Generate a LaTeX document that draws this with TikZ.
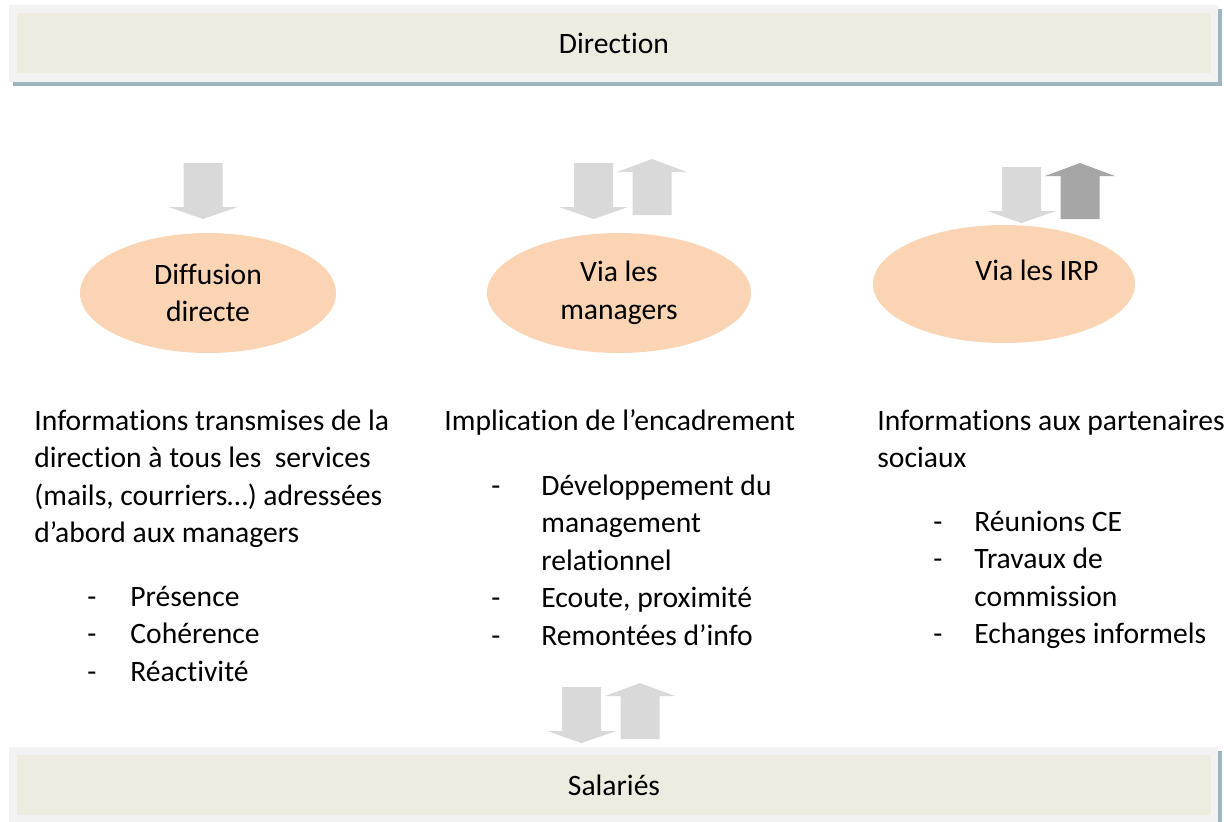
\documentclass[tikz,border=0pt]{standalone}
\usepackage{fontspec}
\setmainfont{Carlito}[Ligatures=NoCommon, RawFeature={-liga;-calt}]
\usetikzlibrary{shapes.geometric,backgrounds}

\definecolor{beige}{HTML}{EEECE1}
\definecolor{cadre}{HTML}{F2F2F2}
\definecolor{ombre}{HTML}{9DB5BE}
\definecolor{peche}{HTML}{FBD4B4}
\definecolor{grisclair}{HTML}{D9D9D9}
\definecolor{grisfonce}{HTML}{A6A6A6}

% tiret de liste, place a gauche du texte
\newcommand{\puce}[1]{\leavevmode\llap{-\hspace{#1pt}}}

\tikzset{
  texte/.style={font=\fontsize{14.8pt}{18.75pt}\selectfont, inner sep=0pt},
  bandeau/.style={texte, fill=beige, minimum width=597pt, minimum height=30pt},
  bulle/.style={texte, ellipse, fill=peche, align=center},
  % ancre sur la ligne de base de la derniere ligne
  bloc/.style={texte, anchor=base west, align=left},
  fleche bas/.pic={\fill (-19.5,0) -- (19.5,0) -- (19.5,44) -- (34.5,44) -- (0,56) -- (-34.5,44) -- (-19.5,44) -- cycle;},
  fleche haut/.pic={\fill (-19.5,0) -- (19.5,0) -- (19.5,-43) -- (35,-43) -- (0,-56) -- (-35,-43) -- (-19.5,-43) -- cycle;}
}

\begin{document}
\begin{tikzpicture}[x=0.5pt, y=-0.5pt]
  \useasboundingbox (0,0) rectangle (1224,821);

  % bandeaux haut et bas
  \node[bandeau] (direction) at (614,43) {Direction};
  \node[bandeau] (salaries) at (614,785) {Salariés};
  \begin{scope}[on background layer]
    \fill[white] (0,0) rectangle (1224,821);
    \foreach \b in {direction, salaries} {
      \fill[ombre] ([shift={(-4,-4)}]\b.north west) rectangle ([shift={(11,13)}]\b.south east);
      \fill[cadre] ([shift={(-8,-8)}]\b.north west) rectangle ([shift={(7,9)}]\b.south east);
    }
  \end{scope}

  % les trois canaux
  \node[bulle, minimum width=128pt, minimum height=60pt] (diffusion) at (208,293) {Diffusion\\directe};
  \node[bulle, minimum width=132pt, minimum height=60pt] (managers) at (619,293) {Via les\\managers};
  \node[bulle, minimum width=131pt, minimum height=59pt] (irp) at (1004,284) {};
  \node[texte] (irptexte) at (1037,270) {Via les IRP};

  % fleches
  \pic[fill=grisclair] at (203,163) {fleche bas};
  \pic[fill=grisclair] at (593.5,163) {fleche bas};
  \pic[fill=grisclair] at (652,215) {fleche haut};
  \pic[fill=grisclair] at (1021.5,167) {fleche bas};
  \pic[fill=grisfonce] at (1080,219) {fleche haut};
  \pic[fill=grisclair] at (581.5,687) {fleche bas};
  \pic[fill=grisclair] at (640,739) {fleche haut};

  % textes sous les bulles
  \node[bloc] (info1) at (34,542.5) {Informations transmises de la\\direction à tous les~ services\\(mails, courriers…) adressées\\d’abord aux managers};
  \node[bloc] (puces1) at (130,681) {\puce{17}Présence\\\puce{17}Cohérence\\\puce{17}Réactivité};

  \node[bloc] (info2) at (444,430) {Implication de l’encadrement};
  \node[bloc] (puces2) at (541,645) {\puce{20.5}Développement du\\management\\relationnel\\\puce{20.5}Ecoute, proximité\\\puce{20.5}Remontées d’info};

  \node[bloc] (info3) at (877,467.5) {Informations aux partenaires\\sociaux};
  \node[bloc] (puces3) at (974,643.5) {\puce{16}Réunions CE\\\puce{16}Travaux de\\commission\\\puce{16}Echanges informels};
\end{tikzpicture}
\end{document}
